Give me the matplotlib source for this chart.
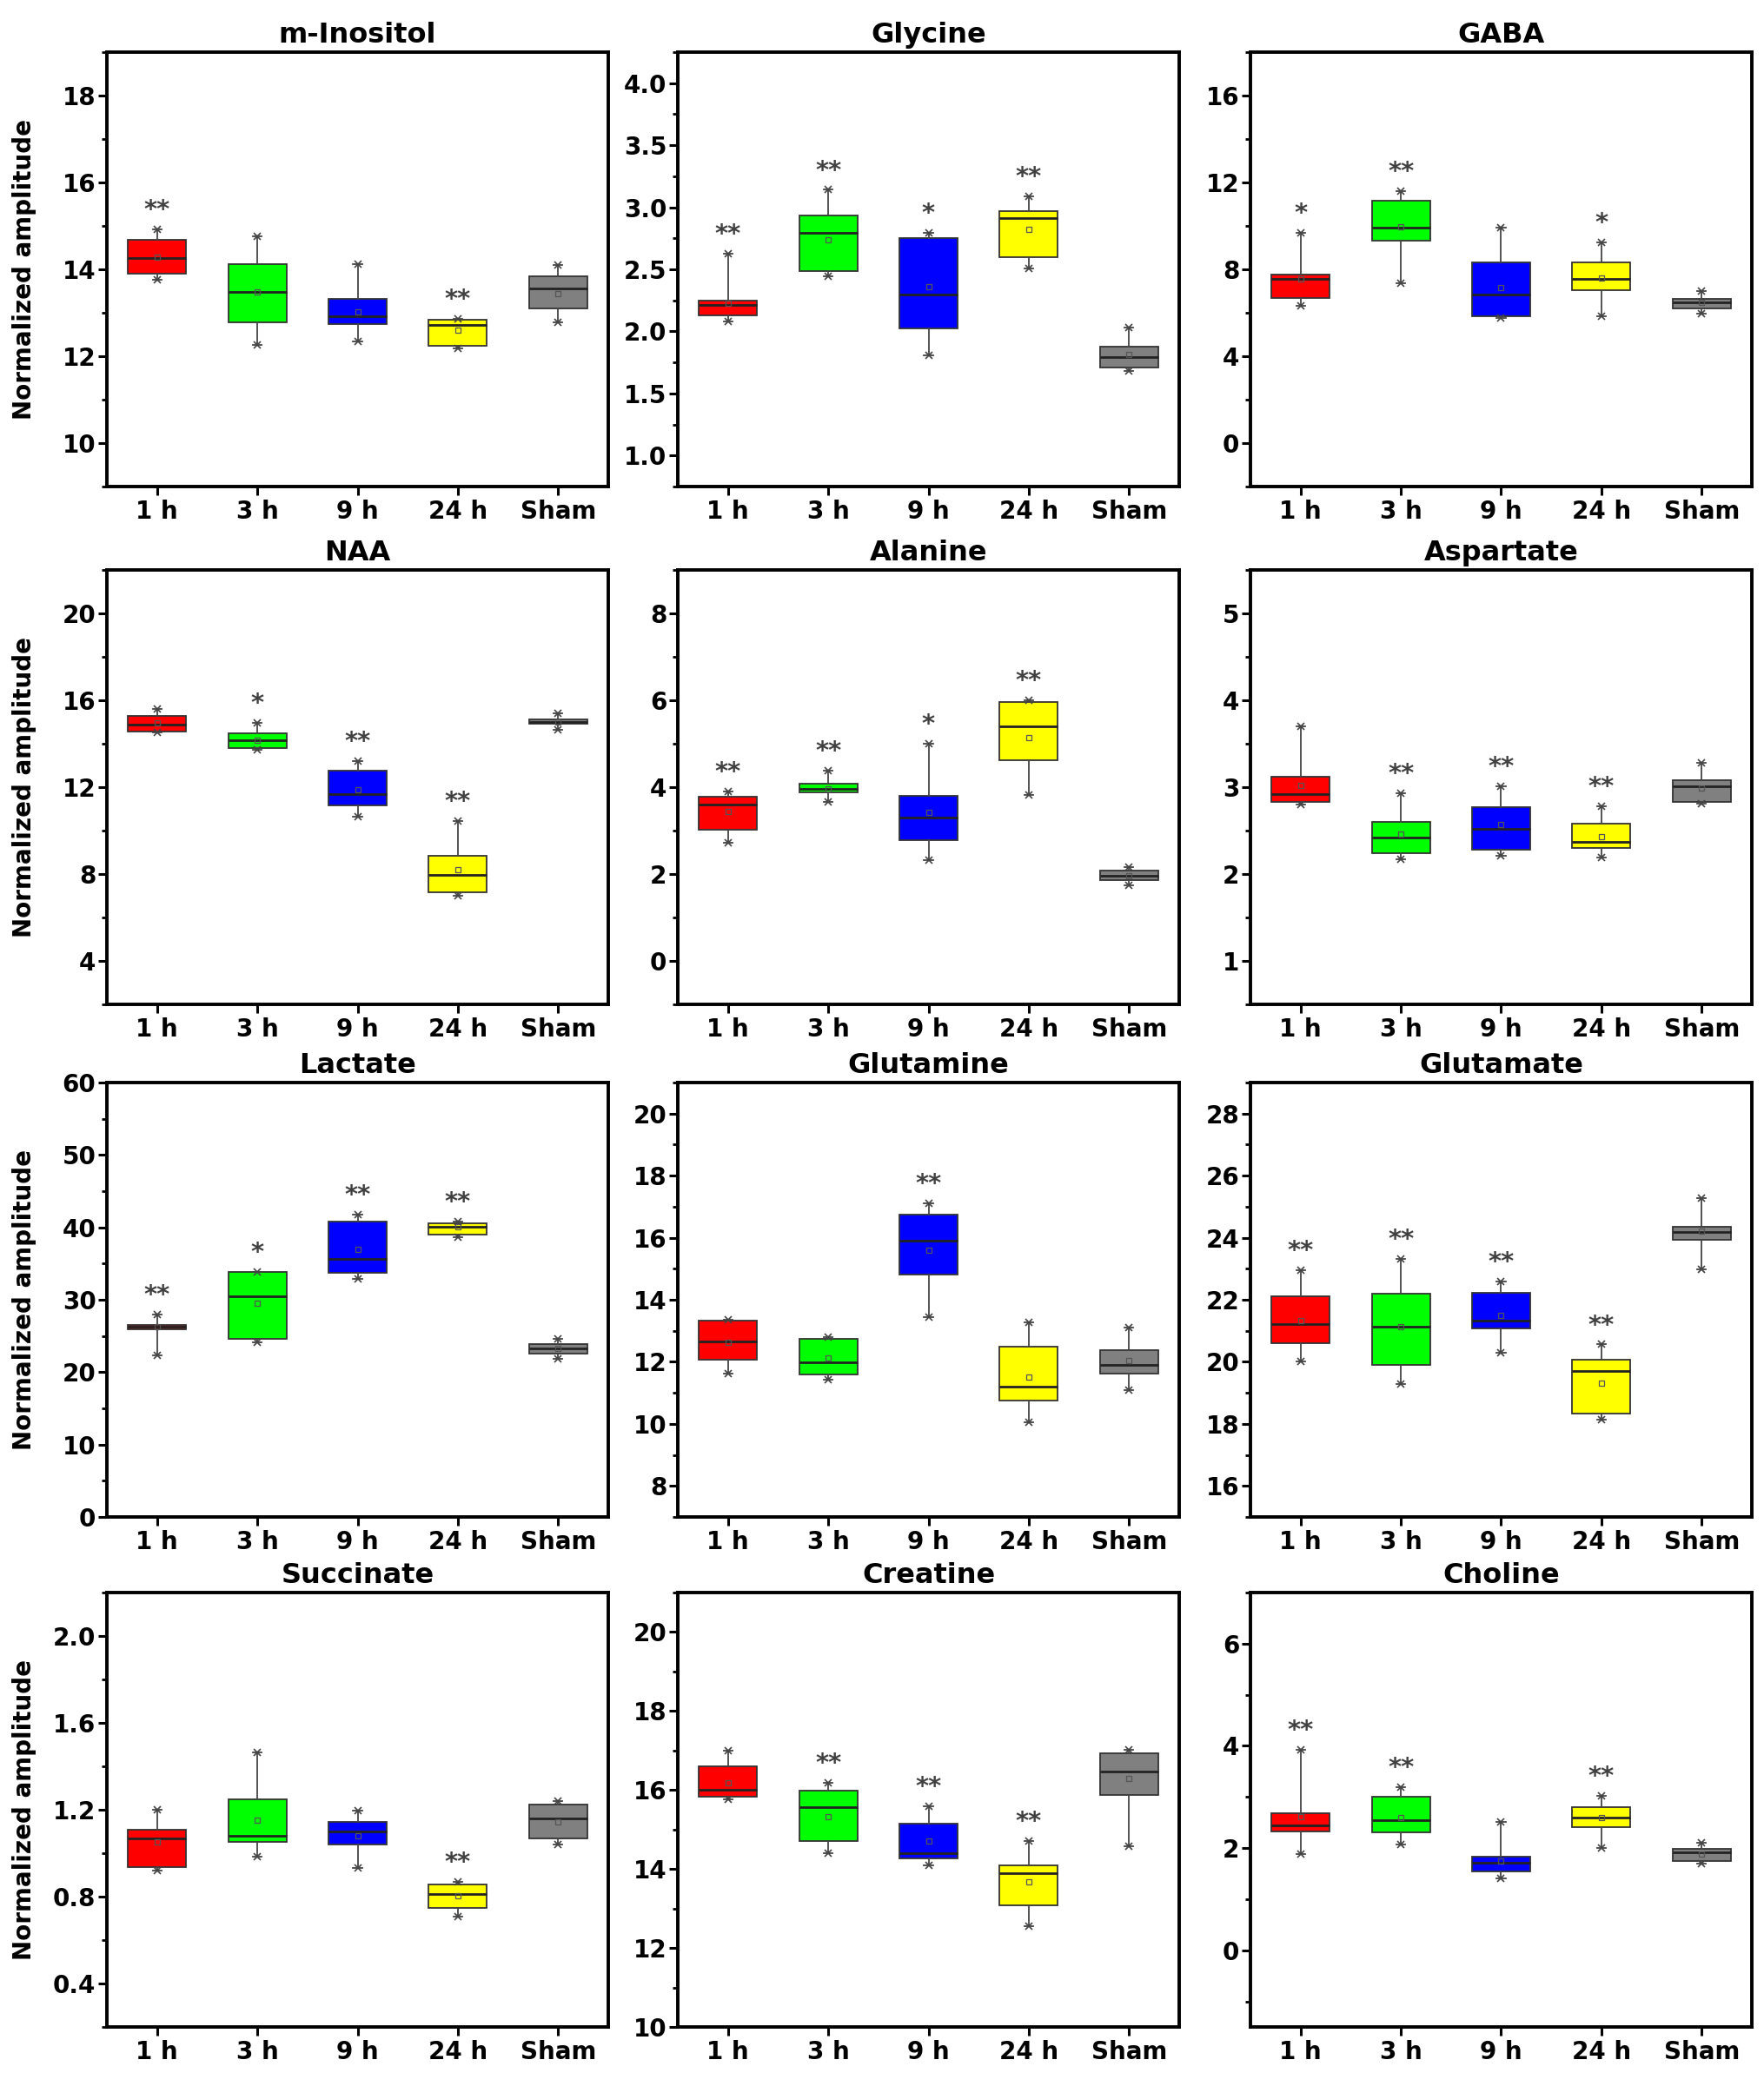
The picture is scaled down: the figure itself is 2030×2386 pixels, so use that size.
import matplotlib
matplotlib.use("Agg")
import matplotlib.pyplot as plt
from matplotlib.ticker import MultipleLocator, FormatStrFormatter

plt.rcParams["font.family"] = ["DejaVu Sans"]
plt.rcParams["font.weight"] = "bold"

groups = ["1 h", "3 h", "9 h", "24 h", "Sham"]
colors = ["#ff0000", "#00ff00", "#0000ff", "#ffff00", "#808080"]

metabolites = ["m-Inositol", "Glycine", "GABA",
               "NAA", "Alanine", "Aspartate",
               "Lactate", "Glutamine", "Glutamate",
               "Succinate", "Creatine", "Choline"]

# box statistics (one row per metabolite, columns = groups)
q1 = [
    [13.90, 12.79, 12.75, 12.24, 13.11],
    [2.127, 2.484, 2.023, 2.597, 1.706],
    [6.70, 9.31, 5.86, 7.04, 6.20],
    [14.56, 13.79, 11.18, 7.17, 14.93],
    [3.02, 3.88, 2.78, 4.62, 1.86],
    [2.83, 2.24, 2.28, 2.30, 2.83],
    [25.93, 24.64, 33.76, 39.00, 22.57],
    [12.07, 11.59, 14.82, 10.76, 11.61],
    [20.60, 19.90, 21.07, 18.33, 23.92],
    [0.936, 1.054, 1.042, 0.750, 1.070],
    [15.83, 14.71, 14.26, 13.09, 15.87],
    [2.33, 2.31, 1.54, 2.41, 1.74],
]
medians = [
    [14.27, 13.48, 12.93, 12.72, 13.56],
    [2.216, 2.793, 2.294, 2.911, 1.792],
    [7.58, 9.92, 6.86, 7.58, 6.47],
    [14.87, 14.16, 11.67, 7.96, 15.02],
    [3.61, 3.97, 3.31, 5.40, 1.97],
    [2.92, 2.42, 2.52, 2.37, 3.01],
    [26.25, 30.53, 35.60, 40.06, 23.26],
    [12.66, 11.99, 15.91, 11.19, 11.89],
    [21.23, 21.12, 21.32, 19.71, 24.19],
    [1.068, 1.080, 1.099, 0.812, 1.161],
    [16.00, 15.56, 14.40, 13.90, 16.47],
    [2.44, 2.54, 1.72, 2.60, 1.92],
]
q3 = [
    [14.69, 14.12, 13.33, 12.85, 13.84],
    [2.248, 2.937, 2.752, 2.970, 1.880],
    [7.78, 11.18, 8.31, 8.34, 6.66],
    [15.28, 14.47, 12.75, 8.83, 15.13],
    [3.79, 4.08, 3.81, 5.96, 2.08],
    [3.12, 2.60, 2.77, 2.58, 3.08],
    [26.57, 33.85, 40.85, 40.52, 23.86],
    [13.33, 12.74, 16.75, 12.50, 12.39],
    [22.12, 22.21, 22.23, 20.08, 24.35],
    [1.107, 1.248, 1.146, 0.858, 1.223],
    [16.60, 15.98, 15.15, 14.10, 16.94],
    [2.69, 3.00, 1.84, 2.80, 1.99],
]
lows = [
    [13.77, 12.26, 12.35, 12.18, 12.79],
    [2.080, 2.444, 1.808, 2.506, 1.679],
    [6.32, 7.35, 5.77, 5.85, 5.97],
    [14.52, 13.72, 10.65, 7.02, 14.64],
    [2.72, 3.67, 2.33, 3.83, 1.74],
    [2.80, 2.17, 2.21, 2.19, 2.81],
    [22.34, 24.18, 32.84, 38.68, 21.88],
    [11.61, 11.43, 13.43, 10.05, 11.08],
    [20.01, 19.28, 20.30, 18.15, 22.98],
    [0.920, 0.984, 0.933, 0.708, 1.042],
    [15.77, 14.40, 14.09, 12.55, 14.57],
    [1.88, 2.07, 1.41, 2.01, 1.70],
]
highs = [
    [14.92, 14.77, 14.13, 12.87, 14.10],
    [2.624, 3.141, 2.793, 3.088, 2.028],
    [9.69, 11.59, 9.91, 9.23, 7.00],
    [15.59, 14.98, 13.21, 10.45, 15.41],
    [3.90, 4.38, 5.00, 6.01, 2.17],
    [3.70, 2.93, 3.01, 2.78, 3.28],
    [28.00, 33.85, 41.77, 40.85, 24.64],
    [13.35, 12.79, 17.11, 13.27, 13.11],
    [22.96, 23.32, 22.58, 20.56, 25.29],
    [1.202, 1.466, 1.197, 0.868, 1.239],
    [17.00, 16.19, 15.59, 14.70, 17.02],
    [3.93, 3.19, 2.51, 3.02, 2.10],
]
means = [
    [14.29, 13.49, 13.02, 12.60, 13.45],
    [2.230, 2.739, 2.358, 2.819, 1.813],
    [7.58, 9.95, 7.18, 7.61, 6.47],
    [14.95, 14.16, 11.90, 8.19, 15.02],
    [3.44, 3.97, 3.43, 5.14, 1.97],
    [3.02, 2.46, 2.57, 2.43, 2.99],
    [26.25, 29.47, 36.98, 40.06, 23.26],
    [12.64, 12.12, 15.61, 11.51, 12.04],
    [21.34, 21.12, 21.51, 19.31, 24.21],
    [1.052, 1.153, 1.080, 0.804, 1.143],
    [16.19, 15.32, 14.70, 13.68, 16.30],
    [2.62, 2.60, 1.75, 2.59, 1.88],
]
stars = [
    ["**", "", "", "**", ""],
    ["**", "**", "*", "**", ""],
    ["*", "**", "", "*", ""],
    ["", "*", "**", "**", ""],
    ["**", "**", "*", "**", ""],
    ["", "**", "**", "**", ""],
    ["**", "*", "**", "**", ""],
    ["", "", "**", "", ""],
    ["**", "**", "**", "**", ""],
    ["", "", "", "**", ""],
    ["", "**", "**", "**", ""],
    ["**", "**", "", "**", ""],
]

# axis settings: limits, major step, minor step, label format
ylims = [(9, 19), (0.75, 4.25), (-2, 18),
         (2, 22), (-1, 9), (0.5, 5.5),
         (0, 60), (7, 21), (15, 29),
         (0.2, 2.2), (10, 21), (-1.5, 7)]
major_steps = [2, 0.5, 4, 4, 2, 1, 10, 2, 2, 0.4, 2, 2]
minor_steps = [1, 0.25, 2, 2, 1, 0.5, 5, 1, 1, 0.2, 1, 1]
tick_fmts = ["%d", "%.1f", "%d", "%d", "%d", "%d",
             "%d", "%d", "%d", "%.1f", "%d", "%d"]

W, H = 2031, 2386
fig = plt.figure(figsize=(W / 100, H / 100), dpi=100)

col_left = [123, 780, 1439]
row_top = [60, 656, 1246, 1833]
ax_w, ax_h = 577, 500

positions = [1, 2, 3, 4, 5]

for k, name in enumerate(metabolites):
    r, c = divmod(k, 3)
    x0 = col_left[c] / W
    y0 = 1 - (row_top[r] + ax_h) / H
    ax = fig.add_axes([x0, y0, ax_w / W, ax_h / H])

    stats = []
    for j in range(5):
        stats.append(dict(med=medians[k][j], q1=q1[k][j], q3=q3[k][j],
                          whislo=lows[k][j], whishi=highs[k][j],
                          mean=means[k][j], fliers=[]))

    bp = ax.bxp(stats, positions=positions, widths=0.58, patch_artist=True,
                showmeans=True, capwidths=0.09,
                boxprops=dict(edgecolor="#333333", linewidth=1.3),
                whiskerprops=dict(color="#444444", linewidth=1.3),
                capprops=dict(color="#444444", linewidth=1.3),
                medianprops=dict(color="#222222", linewidth=2.0),
                meanprops=dict(marker="s", markersize=5,
                               markerfacecolor="none",
                               markeredgecolor="#555555",
                               markeredgewidth=0.9))
    for patch, col in zip(bp["boxes"], colors):
        patch.set_facecolor(col)

    # min / max markers
    ax.plot(positions, highs[k], linestyle="none", marker="x",
            markersize=6, color="#444444", markeredgewidth=1.2, zorder=3)
    ax.plot(positions, lows[k], linestyle="none", marker="x",
            markersize=6, color="#444444", markeredgewidth=1.2, zorder=3)

    # significance stars
    for j, s in enumerate(stars[k]):
        if s:
            ax.annotate(s, (positions[j], highs[k][j]), xytext=(0, 10),
                        textcoords="offset points", ha="center",
                        va="baseline", fontsize=21, fontweight="bold",
                        color="#404040")

    ax.set_xlim(0.5, 5.5)
    ax.set_ylim(*ylims[k])
    ax.set_xticks(positions)
    ax.set_xticklabels(groups)
    ax.yaxis.set_major_locator(MultipleLocator(major_steps[k]))
    ax.yaxis.set_minor_locator(MultipleLocator(minor_steps[k]))
    ax.yaxis.set_major_formatter(FormatStrFormatter(tick_fmts[k]))

    for sp in ax.spines.values():
        sp.set_linewidth(2.8)
    ax.tick_params(axis="both", which="major", direction="out", length=7,
                   width=2.2, labelsize=20)
    ax.tick_params(axis="y", which="minor", direction="out", length=4,
                   width=2.0)
    ax.tick_params(axis="x", which="minor", bottom=False)
    ax.tick_params(axis="y", pad=2)
    ax.tick_params(axis="x", pad=4)
    for lab in ax.get_xticklabels() + ax.get_yticklabels():
        lab.set_fontweight("bold")

    ax.set_title(name, fontsize=23, fontweight="bold", pad=8)

    if c == 0:
        yc = 1 - (row_top[r] + ax_h / 2) / H
        fig.text(28 / W, yc, "Normalized amplitude", rotation=90,
                 ha="center", va="center", fontsize=20, fontweight="bold")

fig.savefig("out.png", dpi=100)
